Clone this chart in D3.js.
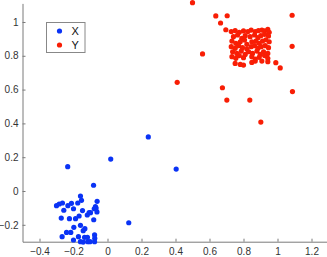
<!DOCTYPE html>
<html><head><meta charset="utf-8">
<script src="https://cdn.jsdelivr.net/npm/d3@7"></script>
<style>html,body{margin:0;padding:0;background:#fff;}svg{display:block;}</style>
</head><body>
<svg id="c" width="327" height="257"></svg>
<script>
const seriesNames = ["X", "Y"];
const xTicks = [-0.4, -0.2, 0, 0.2, 0.4, 0.6, 0.8, 1, 1.2];
const yTicks = [-0.2, 0, 0.2, 0.4, 0.6, 0.8, 1];

const xSeriesX = [0.24,0.019,-0.234,0.125,0.404,
 -0.082,-0.159,-0.153,-0.300,-0.284,-0.265,-0.212,-0.233,-0.175,-0.061,-0.071,-0.067,-0.062,-0.078,
 -0.100,-0.108,-0.257,-0.147,-0.200,-0.272,-0.224,-0.188,-0.167,-0.119,-0.081,-0.159,-0.133,-0.143,
 -0.198,-0.216,-0.241,-0.267,-0.171,-0.135,-0.118,-0.076,-0.075,-0.076,-0.116,-0.143,-0.159,-0.200,-0.103];
const xSeriesY = [0.32,0.189,0.144,-0.188,0.130,
 0.034,-0.030,-0.055,-0.087,-0.077,-0.071,-0.073,-0.087,-0.071,-0.061,-0.093,-0.101,-0.124,-0.105,
 -0.128,-0.128,-0.114,-0.116,-0.105,-0.160,-0.164,-0.164,-0.148,-0.142,-0.170,-0.203,-0.223,-0.235,
 -0.215,-0.245,-0.245,-0.270,-0.270,-0.274,-0.274,-0.260,-0.280,-0.300,-0.300,-0.302,-0.300,-0.290,-0.300];

const ySeriesX = [0.5,0.637,0.704,1.086,0.665,0.696,0.559,1.086,0.99,1.016,0.41,0.676,1.088,0.702,0.837,0.902,
 0.728,0.751,0.775,0.800,0.826,0.845,0.869,0.888,0.908,0.924,0.943,0.951,
 0.741,0.765,0.790,0.810,0.839,0.865,0.885,0.902,0.924,0.947,
 0.732,0.755,0.781,0.806,0.820,0.849,0.873,0.892,0.912,0.932,0.951,
 0.728,0.751,0.771,0.794,0.820,0.845,0.865,0.885,0.904,0.928,0.947,
 0.736,0.761,0.787,0.810,0.830,0.853,0.879,0.898,0.918,0.943,
 0.732,0.755,0.775,0.800,0.849,0.869,0.892,0.924,0.943,
 0.751,0.781,0.800,0.849,0.869,0.908,0.943];
const ySeriesY = [1.114,1.036,1.037,1.040,0.994,0.954,0.811,0.856,0.759,0.728,0.643,0.611,0.588,0.538,0.538,0.408,
 0.943,0.949,0.939,0.947,0.943,0.952,0.943,0.949,0.952,0.947,0.956,0.939,
 0.913,0.923,0.903,0.919,0.913,0.923,0.907,0.919,0.927,0.917,
 0.887,0.874,0.883,0.893,0.868,0.883,0.887,0.874,0.887,0.895,0.883,
 0.854,0.844,0.860,0.848,0.840,0.854,0.860,0.844,0.854,0.860,0.848,
 0.824,0.814,0.828,0.808,0.824,0.814,0.828,0.808,0.824,0.814,
 0.795,0.785,0.801,0.789,0.795,0.781,0.791,0.801,0.785,
 0.755,0.749,0.745,0.761,0.769,0.769,0.765];

const colors = ["#0a33f5", "#f81e05"];

const svg = d3.select("#c");
const x = d3.scaleLinear().domain([-0.5, 1.3]).range([22.5, 328.5]);
const y = d3.scaleLinear().domain([-0.3, 1.11]).range([241.7, 3.4]);
const axisColor = "#7a7a7a";
const textColor = "#333";
const font = "Liberation Sans, Arial, Helvetica, sans-serif";

const xAxis = svg.append("g").attr("transform", `translate(0,${y(-0.3)})`)
  .call(d3.axisBottom(x).tickValues(xTicks).tickSizeInner(-3).tickSizeOuter(0).tickPadding(5).tickFormat(d3.format("")));
const yAxis = svg.append("g").attr("transform", `translate(${x(-0.5)},0)`)
  .call(d3.axisLeft(y).tickValues(yTicks).tickSizeInner(-3).tickSizeOuter(0).tickPadding(4).tickFormat(d3.format("")));
[xAxis, yAxis].forEach(a => {
  a.select(".domain").attr("stroke", axisColor);
  a.selectAll(".tick line").attr("stroke", axisColor);
  a.selectAll(".tick text").attr("fill", textColor).style("font-family", font).style("font-size", "10px");
});
xAxis.selectAll(".tick text").attr("dy", "0.85em");

const seriesData = [d3.zip(xSeriesX, xSeriesY), d3.zip(ySeriesX, ySeriesY)];
seriesData.forEach((pts, i) => {
  svg.append("g").selectAll("circle").data(pts).join("circle")
    .attr("cx", d => x(d[0])).attr("cy", d => y(d[1])).attr("r", 2.6)
    .attr("fill", colors[i]);
});

// legend
const lg = svg.append("g").attr("transform", "translate(46.5,22.5)");
lg.append("rect").attr("width", 38.5).attr("height", 30).attr("fill", "#fff").attr("stroke", "#888");
seriesNames.forEach((n, i) => {
  lg.append("circle").attr("cx", 13).attr("cy", 8.5 + i * 14).attr("r", 2.6).attr("fill", colors[i]);
  lg.append("text").attr("x", 25).attr("y", 8.5 + i * 14).attr("dy", "0.35em")
    .attr("fill", "#111").style("font-family", font).style("font-size", "11px").text(n);
});
</script>
</body></html>
